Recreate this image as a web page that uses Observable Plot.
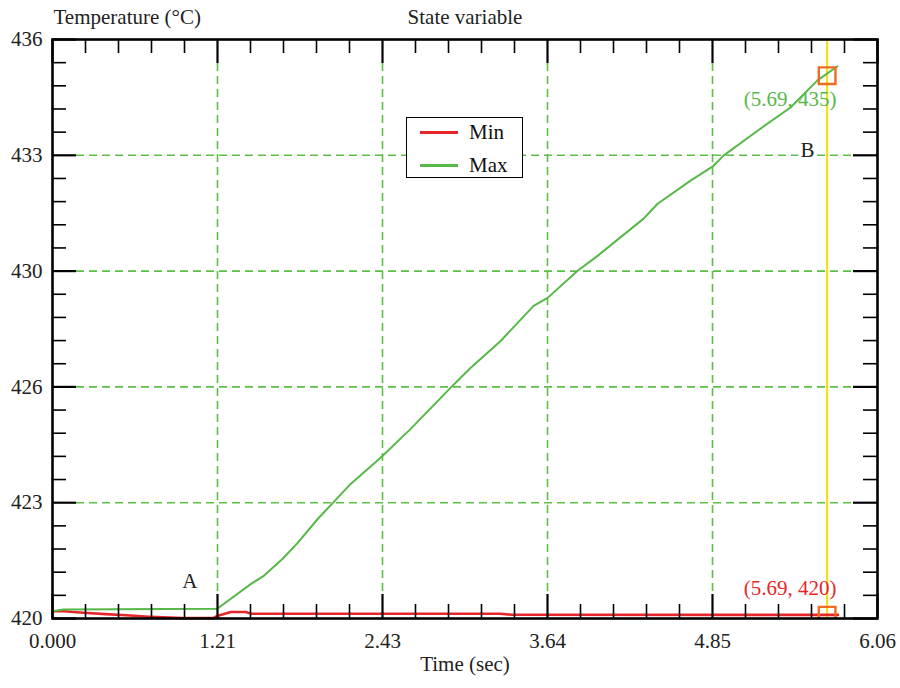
<!DOCTYPE html>
<html><head><meta charset="utf-8">
<script src="https://cdn.jsdelivr.net/npm/d3@7"></script>
<script src="https://cdn.jsdelivr.net/npm/@observablehq/plot@0.6"></script>
<style>
body{margin:0;background:#fff}
#wrap{position:relative;width:900px;height:688px;font-family:"Liberation Serif","Times New Roman",serif}
.legend{position:absolute;left:406px;top:117px;width:115px;height:59px;border:1.5px solid #000;background:#fff;font-size:21px;color:#111}
.legend .row{position:absolute;left:0;height:24px;line-height:24px}
.legend .sw{position:absolute;left:13px;width:38px;height:0;border-top:3px solid}
.legend .lab{position:absolute;left:62px;top:0;white-space:nowrap}
</style></head><body><div id="wrap"></div><script>
// Axis ticks
const xTicks = [0, 1.212, 2.424, 3.636, 4.848, 6.06];
const xTickLabels = ["0.000", "1.21", "2.43", "3.64", "4.85", "6.06"];
const yTicks = [420, 423.2, 426.4, 429.6, 432.8, 436];
const yTickLabels = ["420", "423", "426", "430", "433", "436"];

// Series
const seriesNames = ["Min", "Max"];
const seriesColors = ["#e8262a", "#56b947"];
const maxTime = [0, 0.08, 1.21, 1.456, 1.552, 1.691, 1.801, 1.948, 2.058, 2.19, 2.41, 2.631, 2.925, 3.072, 3.292, 3.534, 3.637, 3.857, 4.004, 4.342, 4.445, 4.687, 4.856, 4.929, 5.179, 5.421, 5.619, 5.766];
const maxTemp = [420.2, 420.25, 420.27, 420.95, 421.18, 421.65, 422.09, 422.75, 423.19, 423.72, 424.44, 425.24, 426.38, 426.93, 427.67, 428.64, 428.86, 429.61, 430.02, 431.05, 431.46, 432.1, 432.51, 432.79, 433.48, 434.12, 434.87, 435.26];
const minTime = [0, 0.08, 0.23, 0.39, 0.54, 0.71, 0.96, 1.18, 1.21, 1.31, 1.42, 1.46, 3.29, 3.37, 5.77];
const minTemp = [420.2, 420.2, 420.16, 420.12, 420.09, 420.05, 420.01, 420.01, 420.07, 420.18, 420.18, 420.13, 420.13, 420.105, 420.1];

// Cursor B and readouts
const cursorTime = 5.69;
const cursorValues = [420.09, 435];
const cursorLabels = ["(5.69, 420)", "(5.69, 435)"];
const markers = [{label: "A", t: 1.009, v: 421.04}, {label: "B", t: 5.545, v: 432.93}];

const W = 900, H = 688, mL = 52, mR = 23, mT = 39, mB = 70;
const innerW = W - mL - mR, innerH = H - mT - mB;
const font = "Liberation Serif";
const fs = 21;
const gridColor = "#5cbf45";

const xMinor = d3.range(0, 25).map(i => i * 1.212 / 5).filter((d, i) => i % 5 !== 0);
const yMinor = d3.range(0, 25).map(i => 420 + i * 3.2 / 5).filter((d, i) => i % 5 !== 0);
const xInner = xTicks.slice(1, -1), yInner = yTicks.slice(1, -1);

const maxData = maxTime.map((t, i) => ({t, v: maxTemp[i]}));
const minData = minTime.map((t, i) => ({t, v: minTemp[i]}));
const cursorData = cursorValues.map((v, i) => ({t: cursorTime, v, label: cursorLabels[i], color: seriesColors[i]}));

const chart = Plot.plot({
  width: W, height: H,
  marginLeft: mL, marginRight: mR, marginTop: mT, marginBottom: mB,
  x: {domain: [0, 6.06], axis: null},
  y: {domain: [420, 436], axis: null},
  style: {fontFamily: font, fontSize: fs + "px", background: "#fff"},
  marks: [
    // grid
    Plot.ruleX(xInner, {x: d => d, stroke: gridColor, strokeWidth: 1.6, strokeDasharray: "8,5", insetTop: 24, insetBottom: 24}),
    Plot.ruleY(yInner, {y: d => d, stroke: gridColor, strokeWidth: 1.6, strokeDasharray: "8,5", insetLeft: 24, insetRight: 24}),
    // cursor
    Plot.ruleX([cursorTime], {x: d => d, stroke: "#f2e200", strokeWidth: 2}),
    // series
    Plot.line(minData, {x: "t", y: "v", stroke: seriesColors[0], strokeWidth: 2.6}),
    Plot.line(maxData, {x: "t", y: "v", stroke: seriesColors[1], strokeWidth: 2}),
    Plot.dot(cursorData, {x: "t", y: "v", symbol: "square", r: 9.4, stroke: "#f06a20", strokeWidth: 2.4, fill: "none", clip: true}),
    // frame
    Plot.frame({stroke: "#000", strokeWidth: 2.6}),
    // ticks bottom/top
    Plot.tickX(xTicks, {x: d => d, stroke: "#000", strokeWidth: 2.2, insetTop: innerH - 24}),
    Plot.tickX(xMinor, {x: d => d, stroke: "#000", strokeWidth: 1.6, insetTop: innerH - 14}),
    Plot.tickX(xTicks, {x: d => d, stroke: "#000", strokeWidth: 2.2, insetBottom: innerH - 24}),
    Plot.tickX(xMinor, {x: d => d, stroke: "#000", strokeWidth: 1.6, insetBottom: innerH - 14}),
    // ticks left/right
    Plot.tickY(yTicks, {y: d => d, stroke: "#000", strokeWidth: 2.2, insetRight: innerW - 24}),
    Plot.tickY(yMinor, {y: d => d, stroke: "#000", strokeWidth: 1.6, insetRight: innerW - 14}),
    Plot.tickY(yTicks, {y: d => d, stroke: "#000", strokeWidth: 2.2, insetLeft: innerW - 24}),
    Plot.tickY(yMinor, {y: d => d, stroke: "#000", strokeWidth: 1.6, insetLeft: innerW - 14}),
    // tick labels
    Plot.text(xTicks, {x: d => d, text: (d, i) => xTickLabels[i], frameAnchor: "bottom", lineAnchor: "middle", dy: 23, fontSize: fs, fill: "#222"}),
    Plot.text(yTicks, {y: d => d, text: (d, i) => yTickLabels[i], frameAnchor: "left", lineAnchor: "middle", dx: -10, textAnchor: "end", fontSize: fs, fill: "#222"}),
    // titles
    Plot.text(["Temperature (°C)"], {text: d => d, frameAnchor: "top-left", lineAnchor: "middle", dy: -22, dx: 1, textAnchor: "start", fontSize: fs, fill: "#222"}),
    Plot.text(["State variable"], {text: d => d, frameAnchor: "top", lineAnchor: "middle", dy: -22, fontSize: fs, fill: "#222"}),
    Plot.text(["Time (sec)"], {text: d => d, frameAnchor: "bottom", lineAnchor: "middle", dy: 46, fontSize: fs, fill: "#222"}),
    // annotations
    Plot.text(markers, {x: "t", y: "v", text: "label", fontSize: fs, fill: "#222", stroke: "#fff", strokeWidth: 6}),
    Plot.text(cursorData.slice(1), {x: "t", y: "v", text: "label", dx: -37, dy: 24, fontSize: fs, fill: seriesColors[1]}),
    Plot.text(cursorData.slice(0, 1), {x: "t", y: "v", text: "label", dx: -37, dy: -27, fontSize: fs, fill: seriesColors[0]})
  ]
});

const wrap = document.getElementById("wrap");
wrap.appendChild(chart);

// legend
const legend = document.createElement("div");
legend.className = "legend";
seriesNames.forEach((name, i) => {
  const row = document.createElement("div");
  row.className = "row";
  row.style.top = (2 + i * 33) + "px";
  row.style.width = "100%";
  const sw = document.createElement("div");
  sw.className = "sw";
  sw.style.top = "11px";
  sw.style.borderTopColor = seriesColors[i];
  const lab = document.createElement("div");
  lab.className = "lab";
  lab.textContent = name;
  row.appendChild(sw); row.appendChild(lab);
  legend.appendChild(row);
});
wrap.appendChild(legend);
</script></body></html>
